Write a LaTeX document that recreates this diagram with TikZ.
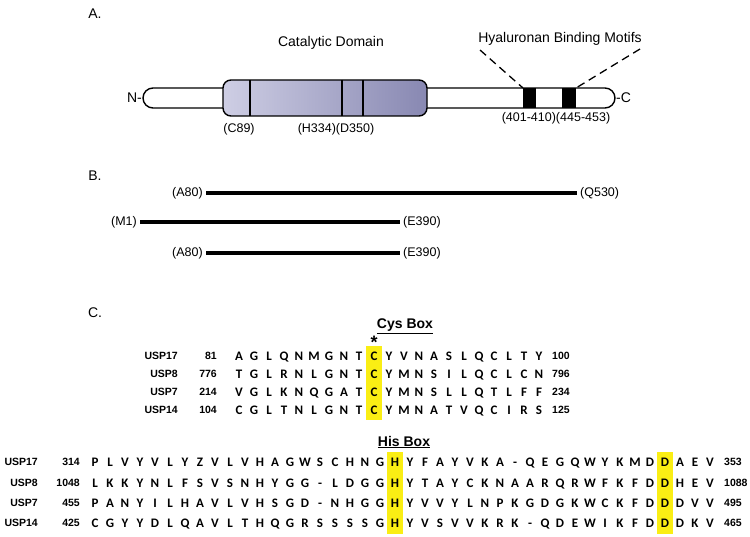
\documentclass[tikz,border=0pt]{standalone}
\usepackage{fontspec}
\setmainfont{Liberation Sans}
\newfontfamily\seqfont{Carlito}
\usetikzlibrary{calc,backgrounds}

\definecolor{catlight}{RGB}{206,206,228}
\definecolor{catdark}{RGB}{136,136,178}
\definecolor{boxyellow}{RGB}{250,238,20}

\begin{document}
\begin{tikzpicture}[x=1pt,y=-1pt,
    panel/.style={font=\fontsize{14}{16}\selectfont},
    site/.style={font=\fontsize{12.5}{14}\selectfont},
    barlabel/.style={font=\fontsize{12.5}{14}\selectfont, inner sep=3pt},
    bar/.style={line width=4pt},
    boxtitle/.style={font=\bfseries\fontsize{14}{16}\selectfont},
    seqname/.style={font=\bfseries\fontsize{10.5}{12}\selectfont, inner sep=0pt},
    residue/.style={font=\seqfont\bfseries\fontsize{13}{15}\selectfont, inner sep=0pt, anchor=base}]
    \useasboundingbox (0,0) rectangle (750,537);

    % A. domain map
    \node[panel] (labA) at (95,14) {A.};
    \node[panel] (catlab) at (331,43) {Catalytic Domain};
    \node[panel] (hablab) at (560,39) {Hyaluronan Binding Motifs};

    \draw[line width=1.4pt, fill=white, rounded corners=10pt] (143,88) rectangle (615,108);
    \draw[line width=1.4pt, left color=catlight, right color=catdark, rounded corners=8pt] (223,80) rectangle (427,116);
    \coordinate (c89) at (250,80);
    \coordinate (h334) at (342,80);
    \coordinate (d350) at (363,80);
    \foreach \p in {c89,h334,d350}
      \draw[line width=1.4pt] (\p) -- ++(0,36);

    \coordinate (m1) at (523,88);
    \coordinate (m2) at (576,88);
    \fill (m1) rectangle ++(13,20);
    \fill (m2) rectangle ++(-14,20);
    \coordinate (d1) at (480,50);
    \coordinate (d2) at (640,49);
    \draw[line width=1.3pt, dash pattern=on 8pt off 5pt] (d1) -- (m1);
    \draw[line width=1.3pt, dash pattern=on 8pt off 5pt] (d2) -- (m2);

    \node[panel, anchor=east, inner sep=1pt] (nterm) at (143,98) {N-};
    \node[panel, anchor=west, inner sep=1pt] (cterm) at (615,98) {-C};
    \node[site] (c89lab) at (239,129) {(C89)};
    \node[site] (hdlab) at (336,129) {(H334)(D350)};
    \node[site] (motlab) at (556,118) {(401-410)(445-453)};

    % B. constructs
    \node[panel] (labB) at (95,176) {B.};
    \node[barlabel, anchor=east] (a80a) at (206,193) {(A80)};
    \node[barlabel, anchor=west] (q530) at (577,193) {(Q530)};
    \node[barlabel, anchor=east] (m1lab) at (140,222) {(M1)};
    \node[barlabel, anchor=west] (e390a) at (400,222) {(E390)};
    \node[barlabel, anchor=east] (a80b) at (206,253) {(A80)};
    \node[barlabel, anchor=west] (e390b) at (400,253) {(E390)};
    \draw[bar] (a80a) -- (q530);
    \draw[bar] (m1lab) -- (e390a);
    \draw[bar] (a80b) -- (e390b);

    % C. alignments
    \node[panel] (labC) at (95,313) {C.};
    \fill[boxyellow] (366,346) rectangle (382,420);
    \fill[boxyellow] (387,452) rectangle (403,534);
    \fill[boxyellow] (657,452) rectangle (673,534);
    \node[boxtitle] (cysbox) at (405,326) {\underline{Cys Box}};
    \node[boxtitle] (hisbox) at (404,442) {\underline{His Box}};
    \node[font=\bfseries\fontsize{18}{20}\selectfont, inner sep=0pt, anchor=base] (star) at (374,349) {*};

    \foreach \nm/\first/\last/\seq/\y in {
        USP17/81/100/{A,G,L,Q,N,M,G,N,T,C,Y,V,N,A,S,L,Q,C,L,T,Y}/356,
        USP8/776/796/{T,G,L,R,N,L,G,N,T,C,Y,M,N,S,I,L,Q,C,L,C,N}/374,
        USP7/214/234/{V,G,L,K,N,Q,G,A,T,C,Y,M,N,S,L,L,Q,T,L,F,F}/392,
        USP14/104/125/{C,G,L,T,N,L,G,N,T,C,Y,M,N,A,T,V,Q,C,I,R,S}/410}{
      \node[seqname, anchor=base east] (cys-\nm) at (178,\y+3.8) {\nm};
      \node[seqname, anchor=base east] (cysf-\nm) at (217,\y+3.8) {\first};
      \foreach \aa [count=\i] in \seq
        \node[residue] (cys-\nm-\i) at ({239+15*(\i-1)},\y+4) {\aa};
      \node[seqname, anchor=base west] (cysl-\nm) at (552,\y+3.8) {\last};
    }

    \foreach \nm/\first/\last/\seq/\y in {
        USP17/314/353/{P,L,V,Y,V,L,Y,Z,V,L,V,H,A,G,W,S,C,H,N,G,H,Y,F,A,Y,V,K,A,-,Q,E,G,Q,W,Y,K,M,D,D,A,E,V}/462,
        USP8/1048/1088/{L,K,K,Y,N,L,F,S,V,S,N,H,Y,G,G,-,L,D,G,G,H,Y,T,A,Y,C,K,N,A,A,R,Q,R,W,F,K,F,D,D,H,E,V}/483,
        USP7/455/495/{P,A,N,Y,I,L,H,A,V,L,V,H,S,G,D,-,N,H,G,G,H,Y,V,V,Y,L,N,P,K,G,D,G,K,W,C,K,F,D,D,D,V,V}/503,
        USP14/425/465/{C,G,Y,Y,D,L,Q,A,V,L,T,H,Q,G,R,S,S,S,S,G,H,Y,V,S,V,V,K,R,K,-,Q,D,E,W,I,K,F,D,D,D,K,V}/523}{
      \node[seqname, anchor=base east] (his-\nm) at (38,\y+3.8) {\nm};
      \node[seqname, anchor=base east] (hisf-\nm) at (80,\y+3.8) {\first};
      \foreach \aa [count=\i] in \seq
        \node[residue] (his-\nm-\i) at ({95+15*(\i-1)},\y+4) {\aa};
      \node[seqname, anchor=base west] (hisl-\nm) at (724,\y+3.8) {\last};
    }
\end{tikzpicture}
\end{document}
